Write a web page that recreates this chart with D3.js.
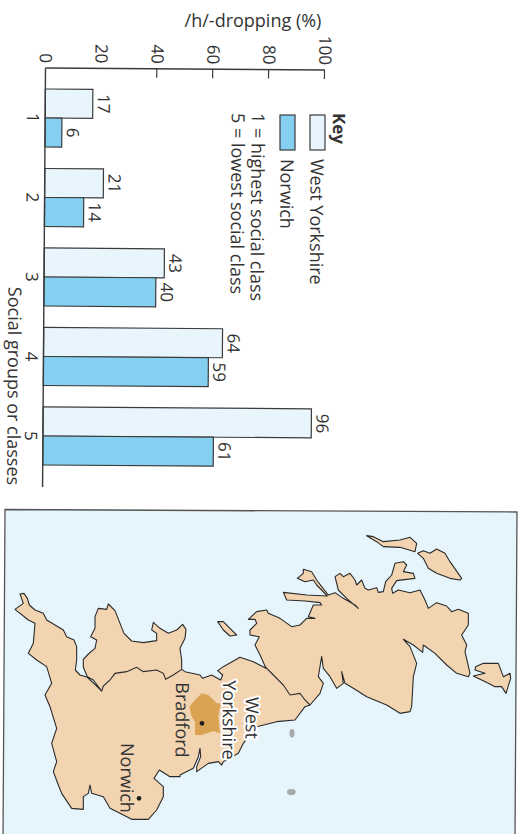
<!DOCTYPE html>
<html><head><meta charset="utf-8">
<script src="https://cdn.jsdelivr.net/npm/d3@7/dist/d3.min.js"></script>
<style>html,body{margin:0;padding:0;background:#fff}svg{display:block}text{font-family:"Open Sans",sans-serif;fill:#333}</style>
</head><body>
<script>
const categories = ["1","2","3","4","5"];
const seriesNames = ["West Yorkshire","Norwich"];
const westYorkshire = [17,21,43,64,96];
const norwich = [6,14,40,59,61];
const valueTicks = [0,20,40,60,80,100];
const notes = ["1 = highest social class","5 = lowest social class"];

// Coastlines, in units of three crops of the map
const coastSouthWest = [[60,42],[72,40],[82,55],[88,75],[105,90],[130,100],[140,120],[165,135],[190,150],[200,170],[222,180],[230,200],[230,240],[226,270],[240,285],[262,292],[290,318],[305,333],[280,300],[262,290],[250,262],[250,238],[265,222],[285,205],[290,180],[272,170],[285,145],[285,110],[295,85],[320,88],[325,72],[345,92],[358,125],[372,160],[395,183],[430,188],[470,182],[470,160],[455,150],[460,127],[480,145],[505,160],[530,150],[548,133],[558,148],[555,175],[540,205],[545,240],[545,268]];
const coastNorthWest = [[15,215],[60,225],[68,235],[95,225],[122,240],[128,225],[113,212],[130,200],[180,172],[220,185],[258,205]];
const coastScotland = [[60,375],[45,345],[58,320],[30,315],[30,300],[50,280],[45,268],[25,268],[50,245],[80,240],[85,250],[120,265],[155,290],[180,285],[200,265],[225,265],[205,260],[220,225],[245,225],[240,218],[195,213],[140,210],[130,187],[200,195],[262,198],[230,165],[220,150],[195,155],[172,145],[190,130],[190,118],[215,125],[230,150],[245,170],[265,195],[285,188],[310,205],[345,225],[355,235],[320,205],[295,180],[285,140],[300,130],[310,140],[330,130],[345,150],[350,165],[365,150],[375,175],[385,180],[410,173],[415,187],[430,185],[437,155],[455,135],[465,100],[490,95],[500,105],[490,125],[520,130],[525,145],[470,152],[455,175],[458,190],[475,180],[510,188],[540,180],[555,210],[565,235],[590,218],[620,228],[635,245],[655,238],[685,250],[685,285],[665,315],[680,345],[675,365],[690,430],[685,440],[650,430],[620,405],[585,370],[550,345],[548,367],[520,345],[490,328],[510,350],[530,400],[520,440],[515,530],[510,545],[480,550],[440,525],[380,500],[340,475],[315,460],[305,425],[310,460],[290,475],[270,440],[250,415],[245,380],[235,440],[250,460],[240,490],[210,525],[195,530],[165,570],[110,575],[50,590]];
const coastEast = [[225,383],[190,430],[175,460],[130,485],[125,495],[115,485],[85,490],[50,515],[50,500],[62,470],[60,445],[55,470],[40,505],[0,525]];
const coastSouth = [[540,590],[510,590],[478,570],[462,595],[490,620],[490,650],[470,690],[445,718],[395,718],[360,700],[330,685],[310,650],[275,640],[270,615],[265,640],[250,650],[250,688],[215,685],[185,640],[175,615],[160,575],[170,545],[155,490],[170,445],[150,380],[135,345],[155,310],[140,260],[110,240],[85,220],[100,190],[105,130],[85,120],[45,88],[70,70]];
const walesBorder = [[305,333],[310,318],[330,300],[345,280],[380,275],[410,262],[430,275],[470,270],[490,280],[497,298],[520,285],[545,268]];
const scotBorder = [[75,410],[100,435],[130,465],[150,495],[180,490],[195,510],[210,525]];
const isleA = [[380,17],[400,20],[430,35],[480,30],[510,22],[530,40],[525,65],[480,52],[430,50],[410,35]];
const isleB = [[533,70],[550,62],[570,70],[590,57],[615,70],[630,95],[665,145],[660,150],[630,145],[590,130],[565,115],[550,85]];
const isleC = [[707,410],[730,400],[775,400],[790,440],[810,430],[812,445],[798,490],[785,470],[765,470],[745,460],[700,438],[735,430],[705,420]];
const isleMan = [[113,65],[130,65],[150,85],[170,105],[150,108],[130,90]];
const bradfordArea = [[28,320],[40,305],[65,280],[85,285],[110,310],[122,310],[115,350],[120,400],[100,393],[65,405],[45,405],[45,365],[35,350]];
const cityDots = [[66,370]];
const norwichDots = [[417,655]];
const smudges = [[336,400,4,7],[334,576,7,5]];

const W = 520, H = 834, TILT = 90.4;
const svg = d3.select("body").append("svg").attr("width",W).attr("height",H);
svg.append("rect").attr("width",W).attr("height",H).attr("fill","#fff");

/* ---------- chart: an ordinary column chart turned on its side ---------- */
const chart = svg.append("g").attr("transform",`translate(45.5,68) rotate(${TILT})`);
const y = d3.scaleLinear().domain([0,100]).range([0,-279.5]);
const x = d3.scaleBand().domain(categories).range([10.25,407.75]).paddingInner(.27).paddingOuter(.135);
const sub = d3.scaleBand().domain(seriesNames).range([0,x.bandwidth()]);
const colors = d3.scaleOrdinal().domain(seriesNames).range(["#e8f5fc","#85d0f0"]);
const LINE = "#3b3b3b";
const TEXT_SIZE = 18, NUM_SIZE = 17;

const rows = categories.map((c,i)=>({c,vals:[westYorkshire[i],norwich[i]]}));
const grp = chart.selectAll("g.grp").data(rows).join("g").attr("transform",d=>`translate(${x(d.c)},0)`);
grp.selectAll("rect").data(d=>d.vals.map((v,i)=>({v,s:seriesNames[i]}))).join("rect")
  .attr("x",d=>sub(d.s)).attr("width",sub.bandwidth())
  .attr("y",d=>y(d.v)).attr("height",d=>y(0)-y(d.v))
  .attr("fill",d=>colors(d.s)).attr("stroke",LINE).attr("stroke-width",1.2);
grp.selectAll("text").data(d=>d.vals.map((v,i)=>({v,s:seriesNames[i]}))).join("text")
  .attr("x",d=>sub(d.s)+sub.bandwidth()/2).attr("y",d=>y(d.v)-5)
  .attr("text-anchor","middle").attr("font-size",NUM_SIZE).text(d=>d.v);

const yAxis = chart.append("g").call(d3.axisLeft(y).tickValues(valueTicks).tickSizeInner(-9).tickSizeOuter(0).tickPadding(5));
yAxis.selectAll("text").attr("font-size",NUM_SIZE).style("font-family",'"Open Sans",sans-serif').attr("fill","#333");
yAxis.selectAll("line").attr("stroke",LINE).attr("stroke-width",1.2);
yAxis.selectAll(".tick").filter(d=>d<=20).select("line").remove();
yAxis.select("path").remove();
chart.append("line").attr("x1",0).attr("x2",0).attr("y1",y(0)).attr("y2",y(100)).attr("stroke",LINE).attr("stroke-width",1.4);
chart.append("line").attr("x1",0).attr("x2",419).attr("y1",y(0)).attr("y2",y(0)).attr("stroke",LINE).attr("stroke-width",1.4);

const xAxis = chart.append("g").call(d3.axisBottom(x).tickSize(0).tickPadding(6));
xAxis.select("path").remove();
xAxis.selectAll("text").attr("font-size",NUM_SIZE).style("font-family",'"Open Sans",sans-serif').attr("fill","#333");

function turned(sx,sy,txt,size,weight,anchor){
  return svg.append("text").attr("transform",`translate(${sx},${sy}) rotate(${TILT})`)
    .attr("dy","0.35em").attr("font-size",size).attr("font-weight",weight||400)
    .attr("text-anchor",anchor||"start").text(txt);
}
svg.append("text").attr("x",253).attr("y",27).attr("text-anchor","middle").attr("font-size",TEXT_SIZE).text("/h/-dropping (%)");
turned(14,386,"Social groups or classes",TEXT_SIZE,400,"middle");

/* legend */
turned(339,113,"Key",17,700);
const swatchX = [310,280];
seriesNames.forEach((s,i)=>{
  svg.append("rect").attr("x",swatchX[i]).attr("y",115).attr("width",15).attr("height",35)
    .attr("fill",colors(s)).attr("stroke",LINE).attr("stroke-width",1.2);
  turned(swatchX[i]+7,159,s,TEXT_SIZE);
});
turned(258,113,notes[0],TEXT_SIZE);
turned(238,113,notes[1],TEXT_SIZE);

/* ---------- map ---------- */
const crop = (ox,oy)=>p=>[ox+p[0]/3,oy+p[1]/3];
const z4 = crop(0,580), z5 = crop(180,600), z6 = crop(240,530);
const line = d3.line();
const closed = d3.line().curve(d3.curveLinearClosed);
const mainland = [...coastSouthWest.map(z4),...coastNorthWest.map(z5),...coastScotland.map(z6),...coastEast.map(z5),...coastSouth.map(z4)];

const map = svg.append("g");
map.append("path").attr("d",closed([[5,509.5],[517,512],[515,840],[3,840]])).attr("fill","#e6f5fc").attr("stroke","#555").attr("stroke-width",1.3);
const LAND = "#f2d4b1", COAST = "#2a2a2a";
[mainland,isleA.map(z6),isleB.map(z6),isleC.map(z6),isleMan.map(z5)].forEach(r=>{
  map.append("path").attr("d",closed(r)).attr("fill",LAND).attr("stroke",COAST).attr("stroke-width",1.1).attr("stroke-linejoin","round");
});
[walesBorder.map(z4),scotBorder.map(z6)].forEach(r=>{
  map.append("path").attr("d",line(r)).attr("fill","none").attr("stroke",COAST).attr("stroke-width",1.1);
});
map.append("path").attr("d",closed(bradfordArea.map(z5))).attr("fill","#d9a353");
smudges.forEach(s=>{
  const p = z5(s);
  map.append("ellipse").attr("cx",p[0]).attr("cy",p[1]).attr("rx",s[2]/1.6).attr("ry",s[3]/1.6).attr("fill","#a8aaaa");
});
[...cityDots.map(z5),...norwichDots.map(z4)].forEach(p=>{
  map.append("circle").attr("cx",p[0]).attr("cy",p[1]).attr("r",2.3).attr("fill","#1a1a1a");
});
function placeName(sx,sy,txt,halo){
  const t = svg.append("text").attr("transform",`translate(${sx},${sy}) rotate(${TILT})`)
    .attr("dy","0.35em").attr("text-anchor","middle").attr("font-size",18).attr("font-weight",500).text(txt);
  if(halo) t.style("paint-order","stroke").attr("stroke","#fff").attr("stroke-width",4).attr("stroke-linejoin","round");
}
placeName(252,718,"West",true);
placeName(229,720,"Yorkshire",true);
placeName(182,720,"Bradford",false);
placeName(127,778,"Norwich",false);
</script>
</body></html>
